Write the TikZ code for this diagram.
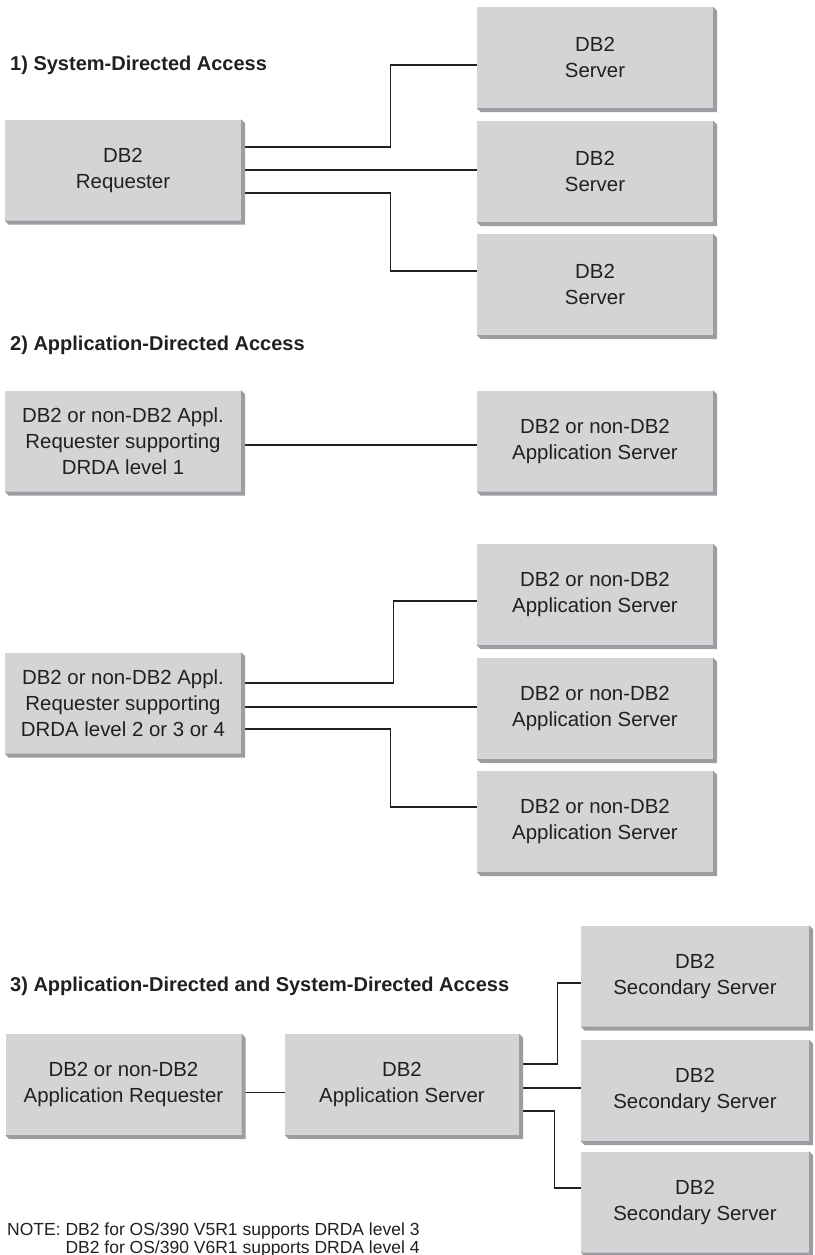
\documentclass[tikz,border=0pt]{standalone}
\usepackage{fontspec}
\setmainfont{Liberation Sans}
\usetikzlibrary{calc}
\definecolor{boxgray}{HTML}{D3D4D6}
\definecolor{bevelgray}{HTML}{9C9DA0}
\definecolor{inkgray}{HTML}{231F20}
\tikzset{
  dbbox/.style={fill=boxgray, text=inkgray, inner sep=0pt, minimum width=236pt, minimum height=101pt, align=center, font=\fontsize{20.4}{26}\selectfont},
  heading/.style={anchor=west, inner sep=0pt, text=inkgray, font=\bfseries\fontsize{20}{22}\selectfont},
  notetext/.style={anchor=base west, inner sep=0pt, text=inkgray, font=\fontsize{17.5}{19}\selectfont},
  link/.style={draw=inkgray, line width=1.1pt}
}

\begin{document}
\begin{tikzpicture}[x=1pt, y=-1pt]
\fill[white] (0,0) rectangle (814,1255);
\useasboundingbox (0,0) rectangle (814,1255);

\node[heading] (head1) at (10,65) {1) System-Directed Access};
\node[dbbox] (reqA) at (123,170) {DB2\\Requester};
\node[dbbox] (srvA) at (595,57.5) {DB2\\Server};
\node[dbbox] (srvB) at (595,171.5) {DB2\\Server};
\node[dbbox] (srvC) at (595,284.5) {DB2\\Server};
\draw[link] ($(reqA.east)+(0,-23)$) -- ++(149,0) |- ($(srvA.west)+(0,7.5)$);
\draw[link] (reqA.east) -- (reqA.east -| srvB.west);
\draw[link] ($(reqA.east)+(0,23)$) -- ++(149,0) |- ($(srvC.west)+(0,-13.5)$);

\node[heading] (head2) at (10,345) {2) Application-Directed Access};
\node[dbbox] (reqB) at (123,441) {DB2 or non-DB2 Appl.\\Requester supporting\\DRDA level 1};
\node[dbbox] (srvD) at (595,441) {DB2 or non-DB2\\Application Server};
\draw[link] ($(reqB.east)+(0,4)$) coordinate (b1) -- (b1 -| srvD.west);

\node[dbbox] (reqC) at (123,703) {DB2 or non-DB2 Appl.\\Requester supporting\\DRDA level 2 or 3 or 4};
\node[dbbox] (srvE) at (595,594.5) {DB2 or non-DB2\\Application Server};
\node[dbbox] (srvF) at (595,708.5) {DB2 or non-DB2\\Application Server};
\node[dbbox] (srvG) at (595,821.5) {DB2 or non-DB2\\Application Server};
\draw[link] ($(reqC.east)+(0,-20)$) -- ++(152,0) |- ($(srvE.west)+(0,6.5)$);
\draw[link] ($(reqC.east)+(0,4)$) coordinate (c2) -- (c2 -| srvF.west);
\draw[link] ($(reqC.east)+(0,26)$) -- ++(149,0) |- ($(srvG.west)+(0,-14.5)$);

\node[heading] (head3) at (10,986) {3) Application-Directed and System-Directed Access};
\node[dbbox] (reqD) at (123.5,1084.5) {DB2 or non-DB2\\Application Requester};
\node[dbbox, minimum width=234pt] (appS) at (402,1084.5) {DB2\\Application Server};
\node[dbbox, minimum width=228pt] (secA) at (695,976) {DB2\\Secondary Server};
\node[dbbox, minimum width=228pt] (secB) at (695,1090.5) {DB2\\Secondary Server};
\node[dbbox, minimum width=228pt] (secC) at (695,1202) {DB2\\Secondary Server};
\draw[link] ($(reqD.east)+(0,8)$) coordinate (d1) -- (d1 -| appS.west);
\draw[link] ($(appS.east)+(0,-20.5)$) -- ++(38,0) |- ($(secA.west)+(0,7)$);
\draw[link] ($(appS.east)+(0,3.5)$) coordinate (e2) -- (e2 -| secB.west);
\draw[link] ($(appS.east)+(0,26.5)$) -- ++(35,0) |- ($(secC.west)+(0,-14)$);

\foreach \n in {reqA,srvA,srvB,srvC,reqB,srvD,reqC,srvE,srvF,srvG,reqD,appS,secA,secB,secC}
  \fill[bevelgray] (\n.north east) -- ++(4,4) -- ($(\n.south east)+(4,4)$) -- ($(\n.south west)+(4,4)$) -- (\n.south west) -- (\n.south east) -- cycle;

\node[notetext] (note1) at (7,1235) {NOTE: DB2 for OS/390 V5R1 supports DRDA level 3};
\node[notetext] (note2) at ($(note1.base west)+(0,18.5)$) {\hphantom{NOTE: }DB2 for OS/390 V6R1 supports DRDA level 4};
\end{tikzpicture}
\end{document}
